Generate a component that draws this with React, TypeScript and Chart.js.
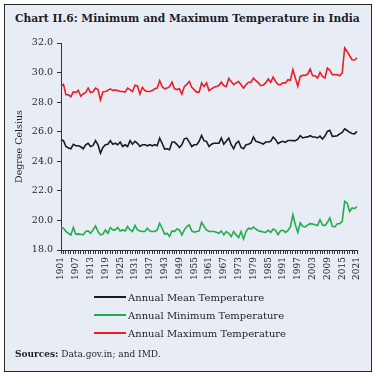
import React, { useEffect, useRef } from "react";
import { Chart, registerables } from "chart.js";

Chart.register(...registerables);

const startYear = 1901;
const endYear = 2021;
const years: string[] = [];
for (let y = startYear; y <= endYear; y++) years.push(String(y));
const labelStep = 6;

const yMin = 18;
const yMax = 32;
const yStep = 2;

const meanTemp = [
  25.45, 25.39, 25.0, 24.9, 24.85, 25.15, 25.05, 25.05, 24.98, 24.85,
  25.12, 25.22, 25.0, 25.07, 25.4, 25.12, 24.55, 24.93, 25.12, 25.15,
  25.39, 25.15, 25.22, 25.12, 25.3, 25.0, 25.12, 25.0, 25.39, 25.15,
  25.35, 25.22, 25.0, 25.12, 25.12, 25.05, 25.12, 25.05, 25.12, 25.05,
  25.57, 25.22, 24.82, 24.85, 24.78, 25.3, 25.3, 25.15, 24.93, 25.12,
  25.52, 25.57, 25.3, 25.0, 25.12, 25.12, 25.35, 25.75, 25.39, 25.35,
  25.0, 25.15, 25.22, 25.22, 25.22, 25.57, 25.15, 25.35, 25.57, 25.12,
  24.85, 25.22, 25.35, 24.93, 24.85, 25.12, 25.15, 25.24, 25.64, 25.35,
  25.3, 25.24, 25.17, 25.3, 25.3, 25.35, 25.64, 25.46, 25.19, 25.3,
  25.35, 25.28, 25.41, 25.41, 25.4, 25.39, 25.5, 25.73, 25.58, 25.62,
  25.65, 25.73, 25.64, 25.64, 25.58, 25.7, 25.51, 25.7, 26.02, 26.09,
  25.69, 25.7, 25.73, 25.85, 25.95, 26.19, 26.08, 25.96, 25.88, 25.85, 26.02,
];

const minTemp = [
  19.52, 19.47, 19.25, 19.13, 19.02, 19.52, 19.07, 19.09, 19.07, 19.02,
  19.25, 19.29, 19.13, 19.36, 19.63, 19.25, 19.02, 19.07, 19.36, 19.13,
  19.52, 19.36, 19.36, 19.52, 19.29, 19.36, 19.29, 19.59, 19.36, 19.25,
  19.66, 19.36, 19.29, 19.25, 19.25, 19.47, 19.29, 19.25, 19.25, 19.36,
  19.81, 19.47, 19.07, 19.13, 18.91, 19.29, 19.25, 19.43, 19.36, 19.02,
  19.36, 19.59, 19.7, 19.29, 19.2, 19.25, 19.29, 19.88, 19.59, 19.36,
  19.25, 19.25, 19.25, 19.2, 19.13, 19.29, 19.02, 19.25, 19.13, 18.91,
  19.25, 19.02, 18.84, 19.25, 18.75, 19.25, 19.47, 19.42, 19.56, 19.42,
  19.3, 19.26, 19.22, 19.19, 19.33, 19.19, 19.42, 19.33, 19.04, 19.3,
  19.33, 19.19, 19.33, 19.56, 20.39, 19.71, 19.19, 19.83, 19.6, 19.56,
  19.7, 19.78, 19.76, 19.7, 19.65, 20.05, 19.68, 19.65, 19.87, 20.17,
  19.6, 19.56, 19.78, 19.78, 19.94, 21.29, 21.18, 20.61, 20.84, 20.8, 20.93,
];

const maxTemp = [
  29.07, 29.2, 28.5, 28.5, 28.37, 28.7, 28.65, 28.8, 28.4, 28.55,
  28.65, 28.95, 28.65, 28.7, 28.95, 28.85, 28.15, 28.7, 28.72, 28.8,
  28.9, 28.8, 28.82, 28.78, 28.72, 28.72, 28.68, 28.95, 28.85, 28.72,
  29.15, 29.1, 28.55, 29.0, 28.78, 28.72, 28.72, 28.78, 28.9, 28.95,
  29.45, 29.05, 28.9, 28.95, 29.05, 29.35, 28.9, 28.85, 28.9, 28.55,
  29.05, 29.2, 29.4, 29.0, 28.85, 28.68, 28.68, 29.3, 29.05, 29.3,
  28.78, 28.9, 29.0, 29.05, 29.12, 29.35, 29.12, 29.05, 29.6, 29.4,
  29.18, 29.3, 29.4, 29.18, 28.95, 29.18, 29.35, 29.35, 29.63, 29.45,
  29.3, 29.11, 29.15, 29.3, 29.57, 29.34, 29.7, 29.4, 29.2, 29.18,
  29.3, 29.3, 29.52, 29.48, 30.2, 29.63, 29.07, 29.74, 29.81, 29.81,
  29.9, 30.24, 29.79, 29.79, 29.63, 30.01, 29.74, 29.63, 30.31, 30.15,
  29.86, 29.86, 29.86, 29.79, 29.97, 31.66, 31.43, 31.14, 30.87, 30.85, 30.99,
];

const seriesNames = [
  "Annual Mean Temperature",
  "Annual Minimum Temperature",
  "Annual Maximum Temperature",
];
const seriesColors = ["#1b1b1b", "#1fae4b", "#ee1c25"];

const titleText = "Chart II.6: Minimum and Maximum Temperature in India";
const yAxisTitle = "Degree Celsius";
const sourceLabel = "Sources:";
const sourceText = " Data.gov.in; and IMD.";

const FONT = "'DejaVu Serif', serif";
const TEXT_COLOR = "#1e1e28";

export default function App() {
  const ref = useRef<HTMLCanvasElement>(null);

  useEffect(() => {
    const canvas = ref.current!;
    const seriesData = [meanTemp, minTemp, maxTemp];
    const axisGrid = {
      display: true,
      drawOnChartArea: false,
      drawTicks: true,
      tickLength: 4,
      color: "#333",
      lineWidth: 1,
    };
    const axisBorder = { display: true, color: "#333", width: 1 };
    const chart = new Chart(canvas, {
      type: "line",
      data: {
        labels: years,
        datasets: seriesNames.map((name, i) => ({
          label: name,
          data: seriesData[i],
          borderColor: seriesColors[i],
          backgroundColor: seriesColors[i],
          borderWidth: 1.6,
          pointRadius: 0,
          tension: 0,
          fill: false,
        })),
      },
      options: {
        animation: false,
        responsive: false,
        devicePixelRatio: 1,
        layout: { padding: { left: 11, right: 19, top: 43, bottom: 5 } },
        plugins: {
          legend: { display: false },
          tooltip: { enabled: false },
          title: { display: false },
        },
        scales: {
          x: {
            type: "category",
            offset: false,
            grid: axisGrid,
            border: axisBorder,
            ticks: {
              autoSkip: false,
              maxRotation: 90,
              minRotation: 90,
              padding: 3,
              color: TEXT_COLOR,
              font: { family: FONT, size: 9 },
              callback: (_v: any, i: number) => (i % labelStep === 0 ? years[i] : ""),
            },
            afterFit: (s: any) => {
              s.height = 40;
            },
          },
          y: {
            min: yMin,
            max: yMax,
            grid: axisGrid,
            border: axisBorder,
            ticks: {
              stepSize: yStep,
              padding: 4,
              color: TEXT_COLOR,
              font: { family: FONT, size: 9.5 },
              callback: (v: any) => Number(v).toFixed(1),
            },
            title: {
              display: true,
              text: yAxisTitle,
              color: TEXT_COLOR,
              padding: { top: 3, bottom: 0 },
              font: { family: FONT, size: 9.5 },
            },
            afterFit: (s: any) => {
              s.width = 50;
            },
          },
        },
      },
    } as any);
    return () => chart.destroy();
  }, []);

  const legendRowsTop = [297, 315, 333];

  return (
    <div
      style={{
        position: "fixed",
        left: 0,
        top: 0,
        width: 376,
        height: 377,
        background: "#ffffff",
        overflow: "hidden",
        fontFamily: FONT,
        color: TEXT_COLOR,
      }}
    >
      <div
        style={{
          position: "absolute",
          left: 4,
          top: 4,
          width: 368,
          height: 368,
          boxSizing: "border-box",
          border: "1.5px solid #2a2a2a",
          background: "#e8edf5",
        }}
      />
      <div
        style={{
          position: "absolute",
          left: 15,
          top: 13,
          fontSize: 10.7,
          lineHeight: "12px",
          fontWeight: "bold",
          whiteSpace: "nowrap",
        }}
      >
        {titleText}
      </div>
      <canvas
        ref={ref}
        width={376}
        height={295}
        style={{ position: "absolute", left: 0, top: 0, width: 376, height: 295 }}
      />
      {seriesNames.map((name, i) => (
        <div
          key={name}
          style={{
            position: "absolute",
            left: 94,
            top: legendRowsTop[i] - 7,
            height: 14,
            display: "flex",
            alignItems: "center",
            whiteSpace: "nowrap",
            fontSize: 10,
          }}
        >
          <div style={{ width: 32, height: 2, background: seriesColors[i], marginRight: 2 }} />
          <span>{name}</span>
        </div>
      ))}
      <div
        style={{
          position: "absolute",
          left: 15,
          top: 348,
          fontSize: 9,
          lineHeight: "12px",
          whiteSpace: "nowrap",
        }}
      >
        <b>{sourceLabel}</b>
        {sourceText}
      </div>
    </div>
  );
}
